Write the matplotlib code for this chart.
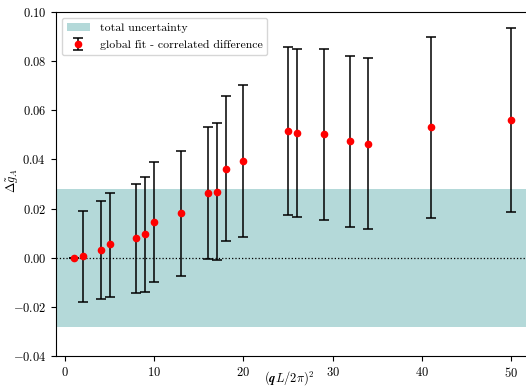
import matplotlib
matplotlib.use('Agg')
from matplotlib import pyplot as plt
import numpy as np

plt.rcParams['font.family'] = 'serif'
plt.rcParams['font.serif'] = ['cmr10', 'DejaVu Serif']
plt.rcParams['mathtext.fontset'] = 'cm'
plt.rcParams['axes.formatter.use_mathtext'] = True

q2 = [1, 2, 4, 5, 8, 9, 10, 13, 16, 17, 18, 20, 25, 26, 29, 32, 34, 41, 50]
dg = [0.0000, 0.0008, 0.0030, 0.0055, 0.0080, 0.0095, 0.0145, 0.0180, 0.0263, 0.0267,
      0.0362, 0.0395, 0.0516, 0.0509, 0.0502, 0.0474, 0.0464, 0.0531, 0.0562]
err_hi = [0.0000, 0.0190, 0.0230, 0.0265, 0.0300, 0.0327, 0.0390, 0.0435, 0.0530, 0.0548,
          0.0660, 0.0703, 0.0858, 0.0850, 0.0848, 0.0822, 0.0812, 0.0898, 0.0935]
err_lo = [0.0000, -0.0180, -0.0170, -0.0160, -0.0145, -0.0140, -0.0099, -0.0075, -0.0005, -0.0010,
          0.0066, 0.0085, 0.0174, 0.0166, 0.0153, 0.0125, 0.0117, 0.0163, 0.0186]
band = 0.028

dg = np.array(dg)
yerr = [dg - np.array(err_lo), np.array(err_hi) - dg]

fig = plt.figure(figsize=(5.26, 3.87), dpi=100)
ax = fig.add_axes([56 / 526, 31 / 387, 1 - 56 / 526 + 0.002, 344 / 387])

ax.axhspan(-band, band, color='#b4d9d9', lw=0, label='total uncertainty')
ax.axhline(0, color='black', ls=':', lw=0.9)
ax.errorbar(q2, dg, yerr=yerr, fmt='o', color='red', ms=4.5, ecolor='black',
            elinewidth=1.1, capsize=3.5, capthick=1.1,
            label='global fit - correlated difference')

ax.set_xlim(-1, 51.8)
ax.set_ylim(-0.04, 0.10)
ax.set_xticks([0, 10, 20, 30, 40, 50])
ax.set_yticks(np.arange(-0.04, 0.101, 0.02))
ax.tick_params(labelsize=9)
ax.spines['right'].set_visible(False)
ax.set_xlabel(r'$(\mathbfit{q}L/2\pi)^2$', fontsize=9)
ax.set_ylabel(r'$\Delta\tilde{g}_A$', fontsize=9)
ax.xaxis.set_label_coords(0.495, -0.037)
ax.yaxis.set_label_coords(-0.074, 0.51)
ax.legend(loc='upper left', fontsize=8.5, labelspacing=0.6)

fig.savefig('out.png', dpi=100)
